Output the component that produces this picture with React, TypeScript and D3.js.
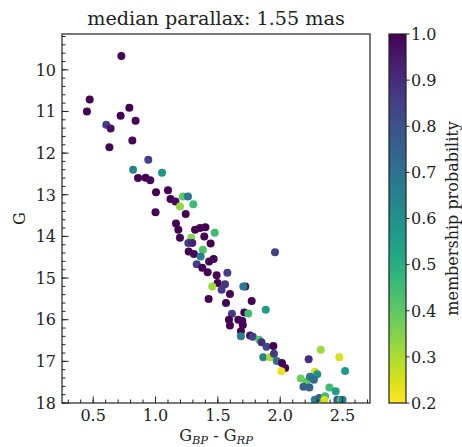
import React from "react";
import * as d3 from "d3";

// colour index (BP-RP), G magnitude, membership probability
const bpRp = [
  0.726, 0.472, 0.45, 0.79, 0.72, 0.84, 0.605, 0.64, 0.814, 0.63,
  0.942, 0.82, 1.052, 0.86, 0.92, 0.958, 1.004, 1.1, 1.12, 1.16,
  1.22, 1.26, 1.196, 1.303, 1.242, 1.0, 1.164, 1.183, 1.317, 1.357,
  1.4, 1.475, 1.196, 1.287, 1.391, 1.263, 1.295, 1.442, 1.38, 1.266,
  1.308, 1.362, 1.43, 1.466, 1.33, 1.375, 1.418, 1.49, 1.576, 1.498,
  1.455, 1.557, 1.53, 1.72, 1.704, 1.597, 1.426, 1.565, 1.771, 1.884,
  1.613, 1.712, 1.744, 1.589, 1.664, 1.696, 1.597, 1.7, 1.685, 1.685,
  1.758, 1.78, 1.832, 1.85, 1.89, 1.945, 1.864, 1.918, 1.95, 1.972,
  2.014, 2.04, 2.009, 2.228, 2.325, 2.474, 2.52, 2.279, 2.297, 2.164,
  2.212, 2.239, 2.27, 2.186, 2.234, 2.394, 2.445, 2.277, 2.313, 2.36,
  2.354, 2.458, 2.485, 2.5, 1.958
];
const gMag = [
  9.67, 10.71, 11.0, 10.91, 11.1, 11.22, 11.32, 11.41, 11.7, 11.86,
  12.16, 12.4, 12.47, 12.6, 12.59, 12.65, 12.94, 12.89, 13.1, 13.16,
  13.04, 13.04, 13.28, 13.23, 13.46, 13.42, 13.69, 13.84, 13.84, 13.8,
  13.78, 13.91, 14.03, 14.03, 14.0, 14.16, 14.16, 14.17, 14.32, 14.36,
  14.42, 14.48, 14.6, 14.54, 14.67, 14.75, 14.86, 14.93, 14.87, 15.12,
  15.2, 15.15, 15.28, 15.2, 15.2, 15.38, 15.5, 15.6, 15.55, 15.76,
  15.86, 15.83, 15.85, 16.0, 16.0, 16.03, 16.14, 16.13, 16.28, 16.4,
  16.38, 16.41, 16.48, 16.54, 16.65, 16.63, 16.9, 16.9, 16.82, 16.99,
  17.04, 17.16, 17.24, 16.95, 16.72, 16.9, 17.23, 17.25, 17.31, 17.41,
  17.49, 17.37, 17.44, 17.61, 17.63, 17.63, 17.72, 17.92, 17.88, 17.84,
  17.93, 17.92, 17.93, 17.92, 14.38
];
const prob = [
  1.0, 1.0, 1.0, 1.0, 1.0, 1.0, 0.85, 0.97, 1.0, 1.0,
  0.85, 0.65, 0.58, 1.0, 1.0, 0.98, 1.0, 1.0, 1.0, 0.98,
  0.4, 0.68, 0.33, 0.45, 1.0, 1.0, 1.0, 1.0, 1.0, 1.0,
  1.0, 0.45, 1.0, 0.35, 1.0, 0.85, 0.92, 1.0, 0.42, 1.0,
  0.98, 0.66, 1.0, 1.0, 0.85, 1.0, 1.0, 1.0, 0.85, 1.0,
  0.32, 0.88, 0.86, 0.97, 0.66, 1.0, 1.0, 1.0, 1.0, 0.56,
  0.86, 1.0, 0.45, 1.0, 1.0, 1.0, 1.0, 1.0, 1.0, 0.66,
  0.97, 0.85, 0.42, 0.9, 0.82, 1.0, 0.64, 0.3, 0.86, 0.7,
  1.0, 1.0, 0.22, 0.9, 0.32, 0.25, 0.56, 0.25, 0.6, 0.38,
  0.4, 0.68, 0.72, 0.75, 0.75, 0.45, 0.55, 0.66, 0.76, 0.45,
  0.25, 0.78, 0.42, 0.65, 0.85
];

const xTicks = [0.5, 1.0, 1.5, 2.0, 2.5];
const yTicks = [10, 11, 12, 13, 14, 15, 16, 17, 18];
const cbTicks = [0.2, 0.3, 0.4, 0.5, 0.6, 0.7, 0.8, 0.9, 1.0];

const W = 462;
const H = 447;
const m = { left: 62, right: 370, top: 34, bottom: 403 };
const cb = { left: 389, right: 406 };
const font = "'DejaVu Serif', serif";

export default function App() {
  const x = d3.scaleLinear().domain([0.25, 2.72]).range([m.left, m.right]);
  const y = d3.scaleLinear().domain([9.14, 18]).range([m.top, m.bottom]);
  const pScale = d3.scaleLinear().domain([0.2, 1.0]).range([m.bottom, m.top]);
  const color = (p: number) => d3.interpolateViridis(1 - (p - 0.2) / 0.8);

  const xMinor = d3.range(3, 28).map((v) => v / 10).filter((v) => v <= 2.72);
  const yMinor = d3.range(46, 91).map((v) => v / 5).filter((v) => v >= 9.14 && v <= 18);

  const points = bpRp.map((v, i) => ({ x: v, g: gMag[i], p: prob[i] }));
  const stops = d3.range(0, 1.0001, 0.05);

  return (
    <svg width={W} height={H} style={{ position: "absolute", left: 0, top: 0 }} fontFamily={font}>
      <defs>
        <clipPath id="plotArea">
          <rect x={m.left} y={m.top} width={m.right - m.left} height={m.bottom - m.top} />
        </clipPath>
        <linearGradient id="cbGrad" x1="0" y1="1" x2="0" y2="0">
          {stops.map((t) => (
            <stop key={t} offset={t} stopColor={d3.interpolateViridis(1 - t)} />
          ))}
        </linearGradient>
      </defs>
      <rect width={W} height={H} fill="white" />

      <text x={216} y={25} textAnchor="middle" fontSize={19.2} fill="#222">
        median parallax: 1.55 mas
      </text>

      <g clipPath="url(#plotArea)">
        {points.map((d, i) => (
          <circle key={i} cx={x(d.x)} cy={y(d.g)} r={4} fill={color(d.p)} />
        ))}
      </g>

      {/* axes frame */}
      <rect x={m.left} y={m.top} width={m.right - m.left} height={m.bottom - m.top}
        fill="none" stroke="#222" strokeWidth={1.2} />

      {xMinor.map((v) => (
        <line key={"xm" + v} x1={x(v)} x2={x(v)} y1={m.bottom} y2={m.bottom - 3.5} stroke="#222" />
      ))}
      {xTicks.map((v) => (
        <g key={"x" + v}>
          <line x1={x(v)} x2={x(v)} y1={m.bottom} y2={m.bottom - 6.5} stroke="#222" />
          <text x={x(v)} y={421} textAnchor="middle" fontSize={16} fill="#222">{v.toFixed(1)}</text>
        </g>
      ))}
      {yMinor.map((v) => (
        <line key={"ym" + v} x1={m.left} x2={m.left + 3.5} y1={y(v)} y2={y(v)} stroke="#222" />
      ))}
      {yTicks.map((v) => (
        <g key={"y" + v}>
          <line x1={m.left} x2={m.left + 6.5} y1={y(v)} y2={y(v)} stroke="#222" />
          <text x={56} y={y(v)} dy="0.36em" textAnchor="end" fontSize={16} fill="#222">{v}</text>
        </g>
      ))}

      <text x={216} y={441} textAnchor="middle" fontSize={16} fill="#222">
        G<tspan fontSize={11.5} fontStyle="italic" dy={2.5}>BP</tspan>
        <tspan dy={-2.5}> - G</tspan>
        <tspan fontSize={11.5} fontStyle="italic" dy={2.5}>RP</tspan>
      </text>
      <text transform={`translate(25,${(m.top + m.bottom) / 2}) rotate(-90)`} textAnchor="middle"
        fontSize={16} fill="#222">G</text>

      {/* colour bar */}
      <rect x={cb.left} y={m.top} width={cb.right - cb.left} height={m.bottom - m.top}
        fill="url(#cbGrad)" stroke="#222" strokeWidth={1.2} />
      {cbTicks.map((v) => (
        <g key={"c" + v}>
          <line x1={cb.right} x2={cb.right + 3.5} y1={pScale(v)} y2={pScale(v)} stroke="#222" />
          <text x={411} y={pScale(v)} dy="0.36em" fontSize={16} fill="#222">{v.toFixed(1)}</text>
        </g>
      ))}
      <text transform={`translate(458,${(m.top + m.bottom) / 2}) rotate(-90)`} textAnchor="middle"
        fontSize={16} fill="#222">membership probability</text>
    </svg>
  );
}
